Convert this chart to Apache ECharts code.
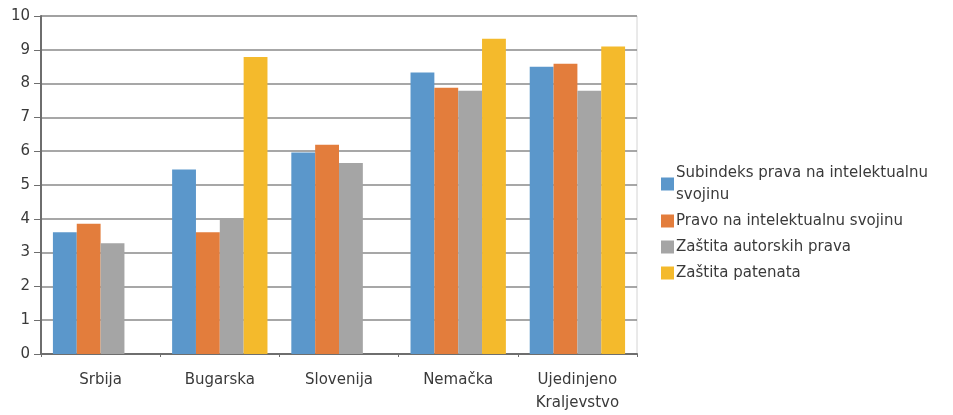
<!DOCTYPE html>
<html>
<head>
<meta charset="utf-8">
<script src="https://cdn.jsdelivr.net/npm/echarts@6/dist/echarts.min.js"></script>
<style>
  html, body { margin: 0; padding: 0; background: #fff; }
  #chart { width: 953px; height: 415px; }
</style>
</head>
<body>
<div id="chart"></div>
<script>
// Countries on the category axis
const categories = ['Srbija', 'Bugarska', 'Slovenija', 'Nemačka', 'Ujedinjeno\nKraljevstvo'];

// Series names and values (index scores, 0–10)
const seriesNames = [
  'Subindeks prava na intelektualnu svojinu',
  'Pravo na intelektualnu svojinu',
  'Zaštita autorskih prava',
  'Zaštita patenata'
];
const subindeks = [3.6, 5.46, 5.96, 8.33, 8.5];
const pravo = [3.85, 3.6, 6.19, 7.88, 8.59];
const autorska = [3.28, 4.0, 5.65, 7.79, 7.79];
const patenti = [0, 8.79, 0, 9.33, 9.1];

const yTicks = [0, 1, 2, 3, 4, 5, 6, 7, 8, 9, 10];

const colors = ['#5b97cb', '#e37d3c', '#a5a5a5', '#f4ba2c'];
const font = '"DejaVu Sans", sans-serif';
const textColor = '#3a3a3a';

const chart = echarts.init(document.getElementById('chart'), null, { renderer: 'canvas' });

const valueSets = [subindeks, pravo, autorska, patenti];

chart.setOption({
  animation: false,
  color: colors,
  grid: {
    left: 41, right: 316, top: 16, bottom: 58,
    show: true, borderColor: '#d4d4d4', borderWidth: 1, backgroundColor: 'transparent'
  },
  legend: {
    orient: 'vertical',
    left: 656,
    top: 157,
    itemWidth: 13,
    itemHeight: 13,
    itemGap: 4,
    icon: 'rect',
    data: seriesNames,
    formatter: name => name === seriesNames[0] ? 'Subindeks prava na intelektualnu\nsvojinu' : name,
    textStyle: { fontFamily: font, fontSize: 15, color: textColor, lineHeight: 22, padding: [0, 0, 0, -3] }
  },
  xAxis: {
    type: 'category',
    data: categories,
    axisLine: { lineStyle: { color: '#6e6e6e', width: 2 } },
    axisTick: { show: true, length: 3, lineStyle: { color: '#6e6e6e' } },
    axisLabel: { fontFamily: font, fontSize: 15, color: textColor, margin: 15, lineHeight: 23 }
  },
  yAxis: {
    type: 'value',
    min: yTicks[0],
    max: yTicks[yTicks.length - 1],
    interval: 1,
    axisLine: { show: true, lineStyle: { color: '#6e6e6e', width: 2 } },
    axisTick: { show: true, length: 7, lineStyle: { color: '#6e6e6e' } },
    axisLabel: { fontFamily: font, fontSize: 15, color: textColor, margin: 11 },
    splitLine: { lineStyle: { color: '#8a8a8a', width: 1.5 } }
  },
  series: seriesNames.map((name, i) => ({
    name,
    type: 'bar',
    data: valueSets[i],
    barGap: '0%',
    barCategoryGap: '20%'
  }))
});
</script>
</body>
</html>
